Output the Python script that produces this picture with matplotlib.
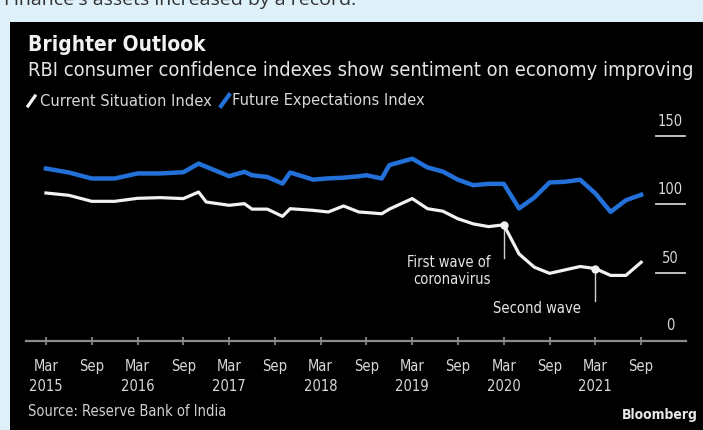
import matplotlib
matplotlib.use("Agg")
import matplotlib.pyplot as plt
from matplotlib.patches import Rectangle
from matplotlib.lines import Line2D

# survey rounds (year-month) and index values
dates = ["2015-03", "2015-06", "2015-09", "2015-12", "2016-03", "2016-06",
         "2016-09", "2016-11", "2016-12", "2017-03", "2017-05", "2017-06",
         "2017-08", "2017-10", "2017-11", "2018-02", "2018-04", "2018-06",
         "2018-08", "2018-09", "2018-11", "2018-12", "2019-03", "2019-05",
         "2019-07", "2019-09", "2019-11", "2020-01", "2020-03", "2020-05",
         "2020-07", "2020-09", "2020-11", "2021-01", "2021-03", "2021-05",
         "2021-07", "2021-09"]
current = [108.3, 106.6, 102.2, 102.2, 104.4, 104.9,
           104.2, 109.0, 101.7, 99.3, 100.5, 96.5,
           96.5, 91.2, 96.8, 95.6, 94.4, 98.8,
           94.4, 94.0, 93.1, 96.5, 104.2, 96.8,
           95.0, 89.4, 85.7, 83.7, 85.0, 63.7,
           54.0, 49.5, 52.0, 54.5, 53.0, 48.0,
           48.0, 57.6]
future = [126.2, 123.3, 118.9, 118.9, 122.6, 122.6,
          123.5, 129.8, 127.5, 120.6, 123.8, 121.3,
          120.0, 115.2, 123.3, 118.1, 119.0, 119.5,
          120.5, 121.3, 118.9, 128.7, 133.4, 127.0,
          124.0, 118.0, 114.0, 115.0, 115.0, 97.0,
          105.0, 116.0, 116.5, 118.0, 108.0, 94.5,
          103.0, 107.0]

tick_dates = ["2015-03", "2015-09", "2016-03", "2016-09", "2017-03", "2017-09",
              "2018-03", "2018-09", "2019-03", "2019-09", "2020-03", "2020-09",
              "2021-03", "2021-09"]
tick_labels = ["Mar\n2015", "Sep", "Mar\n2016", "Sep", "Mar\n2017", "Sep",
               "Mar\n2018", "Sep", "Mar\n2019", "Sep", "Mar\n2020", "Sep",
               "Mar\n2021", "Sep"]
y_ticks = [50, 100, 150]
events = {"2020-03": "First wave of\ncoronavirus", "2021-03": "Second wave"}


def month_no(s):
    y, m = s.split("-")
    return (int(y) - 2015) * 12 + int(m) - 3


x = [month_no(d) for d in dates]
W, H = 703, 430

plt.rcParams['font.family'] = ['DejaVu Sans']
plt.rcParams['font.stretch'] = 'condensed'

fig = plt.figure(figsize=(W / 100, H / 100), dpi=100)
fig.patch.set_facecolor('#def0fa')

def fx(px):
    return px / W

def fy(py):
    return 1 - py / H

# black panel
fig.patches.append(Rectangle((fx(10), 0), 1 - fx(10), fy(22), transform=fig.transFigure,
                             facecolor='black', edgecolor='none', zorder=-5))
fig.text(fx(4), fy(5), "Finance's assets increased by a record.", fontsize=14,
         color='#333333', va='baseline', family=['Open Sans', 'DejaVu Sans'],
         fontstretch='normal')

ax = fig.add_axes([fx(26), fy(341), fx(686) - fx(26), fy(136) - fy(341)])
ax.set_zorder(2)
ax.set_facecolor('none')
ax.plot(x, current, color='#f2f2f2', lw=2.3, solid_joinstyle='round', zorder=3)
ax.plot(x, future, color='#2270d8', lw=3.2, solid_joinstyle='round', zorder=3)
ax.set_xlim((26 - 46) / 7.63, (686 - 46) / 7.63)
ax.set_ylim(0, 150)

for s in ['top', 'right', 'left']:
    ax.spines[s].set_visible(False)
ax.spines['bottom'].set_color('#8c8c8c')
ax.spines['bottom'].set_linewidth(1.6)
ax.spines['bottom'].set_clip_on(False)

ax.set_xticks([month_no(d) for d in tick_dates])
ax.set_xticklabels(tick_labels, fontsize=10.5, color='#d8d8d8', linespacing=1.45)
ax.tick_params(axis='x', direction='inout', length=6, width=1.2, color='#8c8c8c', pad=10)
ax.set_yticks([])

# right-side value labels sitting on short rules
yt = ax.get_yaxis_transform()
for v in y_ticks:
    ax.plot([0.955, 0.998], [v, v], transform=yt, color='#cfcfcf', lw=1.3, clip_on=False)
    ax.annotate(str(v), (0.976, v), xycoords=yt, xytext=(0, 5), textcoords='offset points',
                ha='center', va='bottom', fontsize=10.5, color='#d8d8d8', annotation_clip=False)
ax.annotate("0", (0.976, 0), xycoords=yt, xytext=(0, 6), textcoords='offset points',
            ha='center', va='bottom', fontsize=10.5, color='#d8d8d8', annotation_clip=False)

# event markers
for d, label in events.items():
    i = dates.index(d)
    xv, yv = x[i], current[i]
    ax.plot([xv], [yv], 'o', ms=5, color='#f2f2f2', zorder=4)
    if d == "2020-03":
        ax.plot([xv, xv], [yv, 61], color='#cfcfcf', lw=1.0, zorder=2)
        ax.text(xv - 1.7, 63, label, ha='right', va='top', ma='right', fontsize=10.5,
                color='#e6e6e6', linespacing=1.2)
    else:
        ax.plot([xv, xv], [yv, 29.5], color='#cfcfcf', lw=1.0, zorder=2)
        ax.text(xv - 7.6, 23.5, label, ha='center', va='center', fontsize=10.5,
                color='#e6e6e6')

# titles
fig.text(fx(28), fy(45), "Brighter Outlook", fontsize=15, fontweight='bold',
         color='#f2f2f2', va='center')
fig.text(fx(28), fy(70), "RBI consumer confidence indexes show sentiment on economy improving",
         fontsize=14.4, color='#e6e6e6', va='center')

# legend
fig.lines.append(Line2D([fx(28), fx(35)], [fy(106), fy(96)], transform=fig.transFigure,
                        color='#f2f2f2', lw=2.3))
fig.text(fx(40), fy(101), "Current Situation Index", fontsize=11.8, color='#d8d8d8', va='center')
fig.lines.append(Line2D([fx(221), fx(229)], [fy(106), fy(95)], transform=fig.transFigure,
                        color='#2270d8', lw=3.0))
fig.text(fx(232), fy(101), "Future Expectations Index", fontsize=11.8, color='#d8d8d8', va='center')

# footer
fig.text(fx(28), fy(411), "Source: Reserve Bank of India", fontsize=10.5, color='#cfcfcf', va='center')
fig.text(fx(698), fy(415), "Bloomberg", fontsize=10, fontweight='bold', color='#e6e6e6',
         va='center', ha='right')

fig.savefig('out.png', dpi=100, facecolor=fig.get_facecolor())
